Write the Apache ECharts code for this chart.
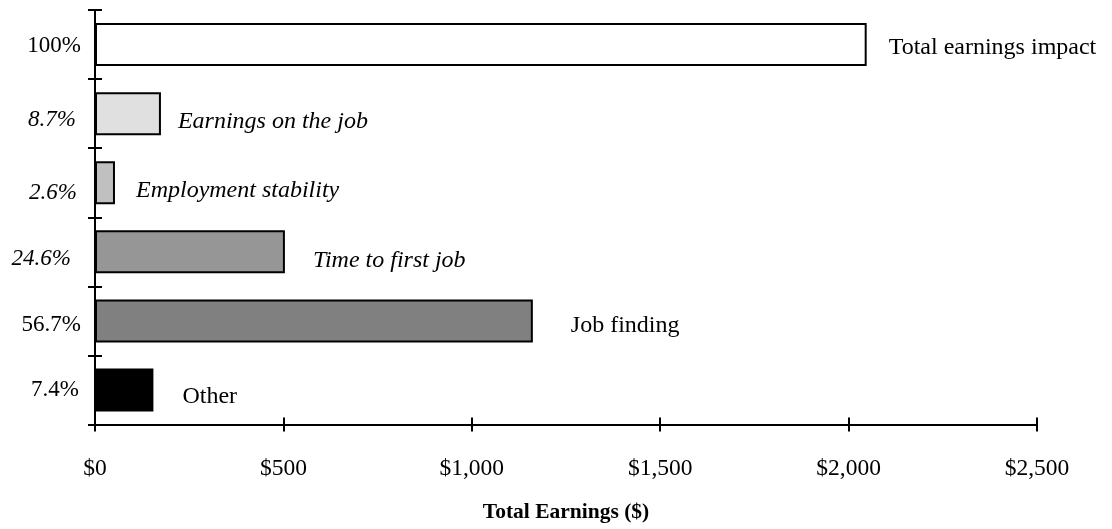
<!DOCTYPE html>
<html>
<head>
<meta charset="utf-8">
<script src="https://cdn.jsdelivr.net/npm/echarts@6/dist/echarts.min.js"></script>
<style>
html, body { margin: 0; padding: 0; background: #fff; }
#main { width: 1112px; height: 529px; }
</style>
</head>
<body>
<div id="main"></div>
<script>
// values, top row first
var shares = ['100%', '8.7%', '2.6%', '24.6%', '56.7%', '7.4%'];
var components = ['Total earnings impact', 'Earnings on the job', 'Employment stability', 'Time to first job', 'Job finding', 'Other'];
var earnings = [2048, 175, 53, 504, 1162, 155];
var xTicks = [0, 500, 1000, 1500, 2000, 2500];

// look of each row
var fills = ['#ffffff', '#e0e0e0', '#c0c0c0', '#969696', '#808080', '#000000'];
var italic = [false, true, true, true, false, false];
var barLabelOffsets = [[22, 3], [17, 8], [21, 8], [28, 9], [38, 5], [29, 7]];
var axisLabelShift = [[0, 1], [5, 6], [4, 10], [10, 7], [0, 4], [2, 0]]; // [dx, dy]
var serif = '"Liberation Serif", "Times New Roman", serif';

var myChart = echarts.init(document.getElementById('main'));

var rich = {};
for (var i = 0; i < shares.length; i++) {
	rich['p' + i] = {
		fontFamily: serif,
		fontSize: 23,
		color: '#000',
		fontStyle: italic[i] ? 'italic' : 'normal',
		padding: [2 * axisLabelShift[i][1], axisLabelShift[i][0], 0, 0]
	};
}

var barData = [];
for (var i = 0; i < earnings.length; i++) {
	barData.push({
		value: earnings[i],
		itemStyle: { color: fills[i] },
		label: {
			formatter: components[i],
			fontStyle: italic[i] ? 'italic' : 'normal',
			offset: barLabelOffsets[i]
		}
	});
}

var lineStyle = { color: '#000', width: 2 };

var option = {
	animation: false,
	backgroundColor: '#fff',
	grid: { left: 95, right: 75, top: 10, bottom: 104.5 },
	xAxis: [
		{
			type: 'value',
			position: 'bottom',
			min: xTicks[0],
			max: xTicks[xTicks.length - 1],
			interval: xTicks[1] - xTicks[0],
			splitLine: { show: false },
			axisLine: { show: true, lineStyle: lineStyle },
			axisTick: { show: true, length: 7, lineStyle: lineStyle },
			axisLabel: {
				margin: 32,
				fontFamily: serif,
				fontSize: 23.5,
				color: '#000',
				formatter: function (v) { return '$' + v.toLocaleString('en-US'); }
			},
			name: 'Total Earnings ($)',
			nameLocation: 'middle',
			nameGap: 77,
			nameTextStyle: { fontFamily: serif, fontSize: 21.5, fontWeight: 'bold', color: '#000' }
		},
		{
			// second copy only to make the ticks cross the line
			type: 'value',
			position: 'bottom',
			min: xTicks[0],
			max: xTicks[xTicks.length - 1],
			interval: xTicks[1] - xTicks[0],
			splitLine: { show: false },
			axisLine: { show: false },
			axisTick: { show: true, inside: true, length: 7, lineStyle: lineStyle },
			axisLabel: { show: false }
		}
	],
	yAxis: [
		{
			type: 'category',
			inverse: true,
			data: shares,
			axisLine: { show: true, lineStyle: lineStyle },
			axisTick: { show: true, length: 7, lineStyle: lineStyle },
			axisLabel: {
				margin: 14,
				formatter: function (v, idx) { return '{p' + idx + '|' + v + '}'; },
				rich: rich
			}
		},
		{
			type: 'category',
			inverse: true,
			position: 'left',
			data: shares,
			axisLine: { show: false },
			axisTick: { show: true, inside: true, length: 7, lineStyle: lineStyle },
			axisLabel: { show: false }
		}
	],
	series: [
		{
			type: 'bar',
			xAxisIndex: 0,
			yAxisIndex: 0,
			barWidth: 43,
			itemStyle: { borderColor: '#000', borderWidth: 2 },
			label: {
				show: true,
				position: 'right',
				distance: 0,
				fontFamily: serif,
				fontSize: 24,
				color: '#000'
			},
			data: barData
		}
	]
};

myChart.setOption(option);
</script>
</body>
</html>
